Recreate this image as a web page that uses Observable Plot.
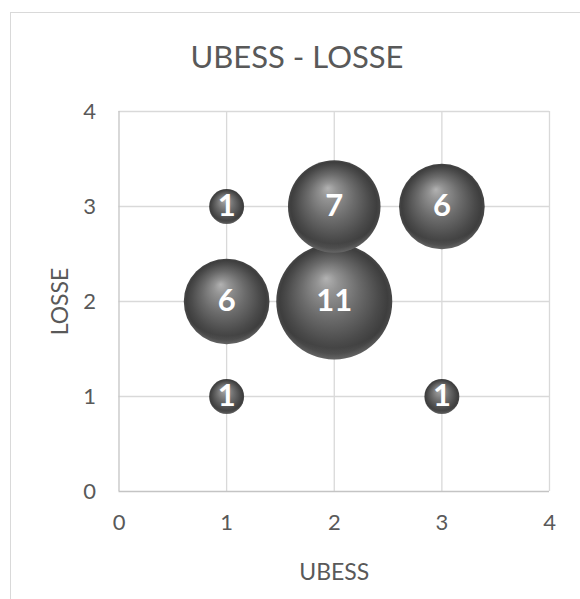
<!DOCTYPE html>
<html>
<head>
<meta charset="utf-8">
<script src="https://cdn.jsdelivr.net/npm/d3@7"></script>
<script src="https://cdn.jsdelivr.net/npm/@observablehq/plot@0.6"></script>
<style>
  html, body { margin: 0; padding: 0; background: #fff; overflow: hidden; }
  #wrap { position: relative; width: 580px; height: 599px; }
  #border { position: absolute; left: 10px; top: 12px; width: 620px; height: 640px; border: 1px solid #d9d9d9; box-sizing: border-box; }
  #title { position: absolute; left: 0; top: 0; width: 594px; height: 86px; line-height: 112px; text-align: center;
           font-family: Lato, sans-serif; font-size: 31px; color: #595959; }
  #chart { position: absolute; left: 0; top: 86px; }
</style>
</head>
<body>
<div id="wrap">
  <div id="border"></div>
  <div id="title">UBESS - LOSSE</div>
  <div id="chart"></div>
</div>
<script>
// Data
const ubess  = [1, 2, 3, 1, 2, 1, 3];
const losse  = [3, 3, 3, 2, 2, 1, 1];
const counts = [1, 7, 6, 6, 11, 1, 1];
const ticks = [0, 1, 2, 3, 4];
const gridLines = [1, 2, 3, 4];

const data = ubess.map((u, i) => ({ubess: u, losse: losse[i], n: counts[i]}));

// gradient definitions for the 3D sphere look
const defs = () => {
  const svg = d3.create("svg:g");
  const d = svg.append("defs");
  const g = d.append("radialGradient").attr("id", "sphere")
    .attr("cx", "50%").attr("cy", "50%").attr("r", "50%")
    .attr("fx", "43%").attr("fy", "30%");
  [[0, "#b2b2b2"], [0.18, "#939393"], [0.5, "#6b6b6b"], [0.8, "#4a4a4a"], [0.93, "#3e3e3e"], [1, "#474747"]]
    .forEach(([o, c]) => g.append("stop").attr("offset", o).attr("stop-color", c));
  const rim = d.append("radialGradient").attr("id", "rim")
    .attr("cx", "50%").attr("cy", "30%").attr("r", "75%");
  [[0, "rgba(255,255,255,0)"], [0.8, "rgba(255,255,255,0)"], [0.96, "rgba(255,255,255,0.2)"], [1, "rgba(255,255,255,0.2)"]]
    .forEach(([o, c]) => rim.append("stop").attr("offset", o).attr("stop-color", c));
  return svg.node();
};

const plot = Plot.plot({
  width: 580,
  height: 513,
  marginLeft: 118.5,
  marginRight: 31,
  marginTop: 25,
  marginBottom: 108,
  style: {fontFamily: "Lato, sans-serif", fontSize: "22px", color: "#595959", background: "transparent", overflow: "visible"},
  x: {domain: [0, 4], ticks: ticks},
  y: {domain: [0, 4], ticks: ticks},
  r: {type: "sqrt", domain: [0, 11], range: [0, 58]},
  marks: [
    defs,
    Plot.ruleX(gridLines, {stroke: "#d9d9d9", strokeWidth: 1.3}),
    Plot.ruleY(gridLines, {stroke: "#d9d9d9", strokeWidth: 1.3}),
    Plot.ruleX([0], {stroke: "#c4c4c4", strokeWidth: 1.3}),
    Plot.ruleY([0], {stroke: "#c4c4c4", strokeWidth: 1.3}),
    Plot.axisX({ticks: ticks, tickFormat: d3.format("d"), tickSize: 0, tickPadding: 23, label: null, fontSize: 22}),
    Plot.axisY({ticks: ticks, tickFormat: d3.format("d"), tickSize: 0, tickPadding: 23, label: null, fontSize: 22}),
    Plot.text(["UBESS"], {frameAnchor: "bottom", dy: 81.5, lineAnchor: "middle", textAnchor: "middle", fontSize: 23, fill: "#595959"}),
    Plot.text(["LOSSE"], {frameAnchor: "left", dx: -58, rotate: -90, lineAnchor: "middle", textAnchor: "middle", fontSize: 23, fill: "#595959"}),
    Plot.dot(data, {x: "ubess", y: "losse", r: "n", fill: "url(#sphere)", stroke: "none"}),
    Plot.dot(data, {x: "ubess", y: "losse", r: "n", fill: "url(#rim)", stroke: "none"}),
    Plot.text(data, {x: "ubess", y: "losse", text: d => String(d.n), fill: "white", fontWeight: "bold", fontSize: 31, lineAnchor: "middle"})
  ]
});
document.getElementById("chart").appendChild(plot);
</script>
</body>
</html>
